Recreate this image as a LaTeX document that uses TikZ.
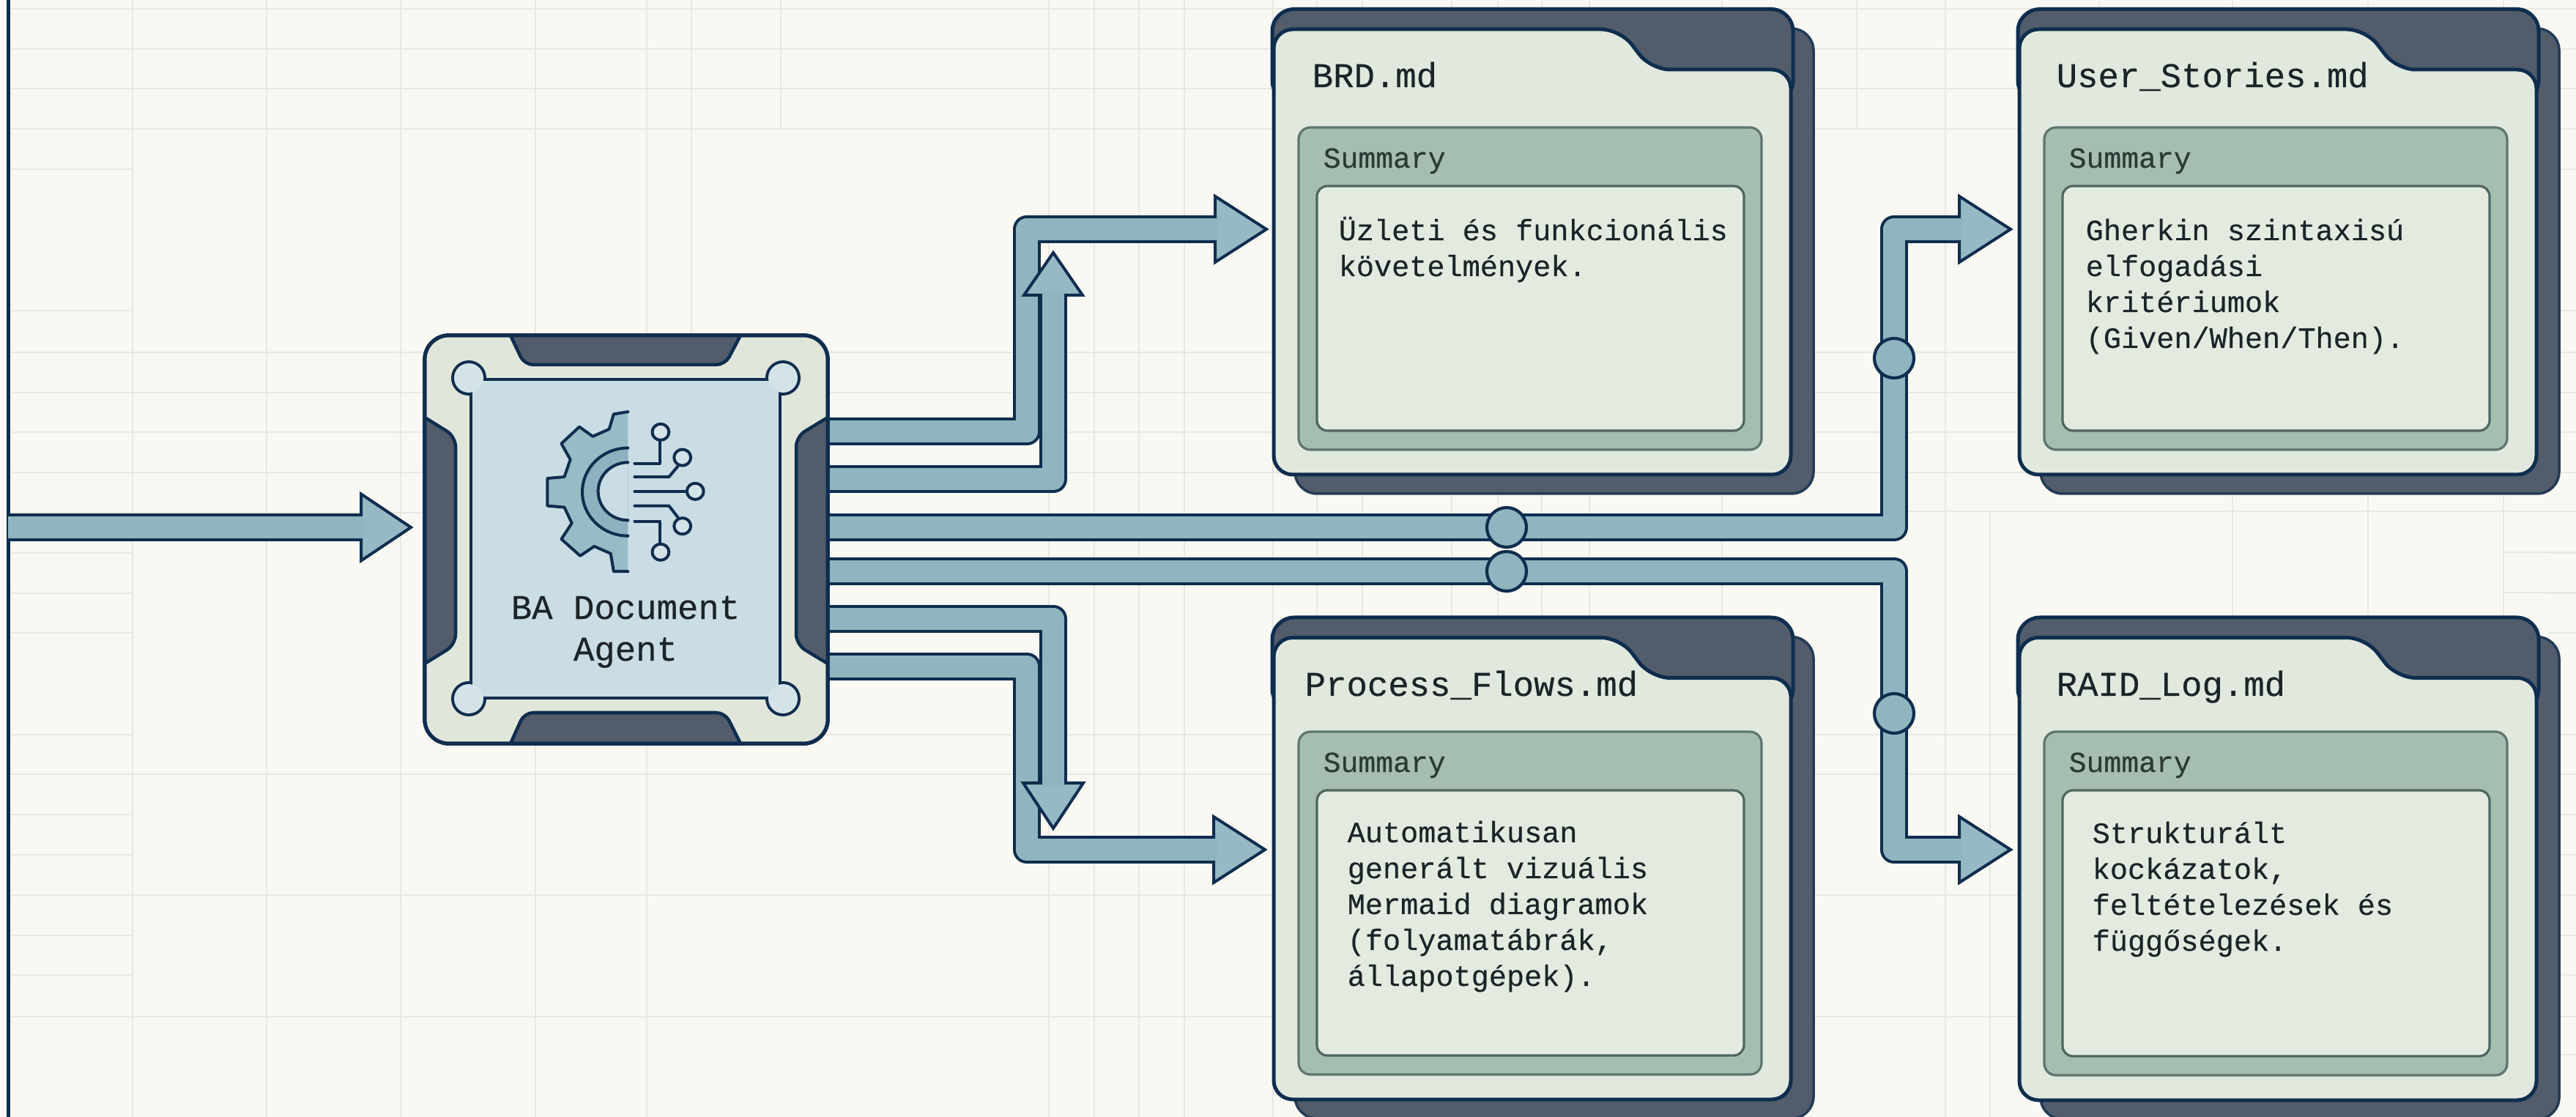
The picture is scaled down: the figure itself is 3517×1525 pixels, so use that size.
\documentclass[tikz,border=0pt]{standalone}
\usepackage{fontspec}
\setmainfont{Liberation Mono}[RawFeature={embolden=0.35}]
\usetikzlibrary{calc,fit}
\definecolor{bgc}{HTML}{F9F8F3}
\definecolor{gridc}{HTML}{E8E7E1}
\definecolor{navy}{HTML}{0F2D4E}
\definecolor{slate}{HTML}{525C6A}
\definecolor{band}{HTML}{8FB5C0}
\definecolor{tipc}{HTML}{97B9C5}
\definecolor{paper}{HTML}{E1E8DD}
\definecolor{sage}{HTML}{A5BEAF}
\definecolor{sageline}{HTML}{5E766F}
\definecolor{note}{HTML}{E3EADF}
\definecolor{noteline}{HTML}{4F6660}
\definecolor{chipc}{HTML}{E0E6DA}
\definecolor{panel}{HTML}{CADDE4}
\definecolor{knob}{HTML}{D3E3E8}
\definecolor{gearc}{HTML}{98BCC6}
\definecolor{ringc}{HTML}{8FB0BE}
\definecolor{ink}{HTML}{1B2428}
\definecolor{inkg}{HTML}{2B3A35}
\tikzset{
  x=0.01cm,y=-0.01cm,
  gridline/.style={draw=gridc,line width=0.025cm},
  pipeedge/.style={draw=navy,line width=0.385cm,line join=round},
  pipefill/.style={draw=band,line width=0.30cm,line join=round},
  tipshape/.style={draw=navy,fill=tipc,line width=0.04cm,line join=miter},
  junction/.style={circle,draw=navy,fill=band,line width=0.042cm,minimum size=0.54cm,inner sep=0pt},
  chipbox/.style={rectangle,rounded corners=0.33cm,draw=navy,fill=chipc,line width=0.05cm,minimum width=5.5cm,minimum height=5.57cm,inner sep=0pt,outer sep=0pt},
  slab/.style={draw=navy,fill=slate,line width=0.045cm,line join=round},
  folderback/.style={draw=navy!70!slate,fill=slate,line width=0.035cm,rounded corners=0.3cm},
  foldertab/.style={draw=navy,fill=slate,line width=0.05cm,rounded corners=0.3cm},
  folderfront/.style={draw=navy,fill=paper,line width=0.05cm,rounded corners=0.26cm,line join=round},
  sagebox/.style={draw=sageline,fill=sage,line width=0.032cm,rounded corners=0.16cm},
  notebox/.style={draw=noteline,fill=note,line width=0.032cm,rounded corners=0.14cm},
  foldertitle/.style={anchor=base west,inner sep=0pt,font=\fontsize{13.46pt}{16pt}\selectfont,text=ink},
  summarytitle/.style={anchor=base west,inner sep=0pt,font=\fontsize{11.3pt}{14pt}\selectfont,text=inkg},
  bodytext/.style={anchor=base west,inner sep=0pt,align=left,font=\fontsize{11.44pt}{13.94pt}\selectfont,text=ink},
  agenttext/.style={anchor=base,inner sep=0pt,align=center,font=\fontsize{13.46pt}{16.2pt}\selectfont,text=ink},
  icon/.style={draw=navy,line width=0.04cm,line join=round,line cap=round},
}
\newcommand{\fatR}[2]{%
  \draw[pipeedge] #1 -- ($(#2)+(-70,0)$);
  \draw[tipshape] (#2) -- ++(-70,-45) -- ++(0,90) -- cycle;
  \draw[pipefill] #1 -- ($(#2)+(-65,0)$);
}
\newcommand{\fatU}[2]{%
  \draw[pipeedge] #1 -- ($(#2)+(0,58)$);
  \draw[tipshape] (#2) -- ++(-40,58) -- ++(80,0) -- cycle;
  \draw[pipefill] #1 -- ($(#2)+(0,53)$);
}
\newcommand{\fatD}[2]{%
  \draw[pipeedge] #1 -- ($(#2)+(0,-62)$);
  \draw[tipshape] (#2) -- ++(-41,-62) -- ++(82,0) -- cycle;
  \draw[pipefill] #1 -- ($(#2)+(0,-57)$);
}
% name, dx, dy, front bottom, sage top, note top
\newcommand{\folderbox}[6]{%
  \begin{scope}[shift={(#2,#3)}]
    \node[fit={(1737,12.5)(2476,#4+26)},inner sep=0pt,outer sep=0pt] (#1) {};
    \draw[folderback] (1768,39) rectangle (2476,#4+26);
    \draw[foldertab] (1737,12.5) rectangle (2448,140);
    \draw[folderfront] (1739,40) -- (2212,40) -- (2254,95) -- (2445,95) -- (2445,#4) -- (1739,#4) -- cycle;
    \draw[sagebox] (1773,#5) rectangle (2405,#4-34);
    \draw[notebox] (1798,#6) rectangle (2381,#4-60);
  \end{scope}
}
\begin{document}
\begin{tikzpicture}
\useasboundingbox (0,0) rectangle (3517,1525);
\clip (0,0) rectangle (3517,1525);
\fill[bgc] (0,0) rectangle (3517,1525);
% background grid
\foreach \yy in {12,67,121,176,481,536,590,645,1057,1222,1388}
  \draw[gridline] (15,\yy) -- (3517,\yy);
\foreach \yy in {231,424,755,810,864,1112,1167,1277,1331}
  {\draw[gridline] (15,\yy) -- (181,\yy); \draw[gridline] (3480,\yy) -- (3517,\yy);}
\draw[gridline] (3480,1440) -- (3517,1440);
\draw[gridline] (15,700) -- (580,700);
\draw[gridline] (2603,698) -- (3517,698);
\draw[gridline] (3418,754) -- (3517,754);
\draw[gridline] (3418,809) -- (3517,809);
\draw[gridline] (15,1003) -- (181,1003);
\draw[gridline] (1127,1003) -- (3517,1003);
\foreach \xx in {181,364,547,731,883,1432,1494,1555,1617,1738,1798,1860,1982,2045,2105,2170,2351,2656,3048,3233,3418}
  \draw[gridline] (\xx,0) -- (\xx,1525);
\draw[gridline] (944,0) -- (944,458);
\draw[gridline] (1066,0) -- (1066,176);
\draw[gridline] (2535,0) -- (2535,176);
\draw[gridline] (2866,0) -- (2866,12);
\draw[gridline] (2717,698) -- (2717,1525);
% left rule
\draw[navy,line width=0.042cm] (11.5,0) -- (11.5,1525);
% nodes: agent and documents
\node[chipbox] (chip) at (855,736.5) {};
\folderbox{brd}{0}{0}{648}{174}{254}
\folderbox{stories}{1018}{0}{648}{174}{254}
\folderbox{flows}{0}{830.5}{670.5}{168.5}{248.5}
\folderbox{raid}{1018}{830.5}{671.5}{168.5}{248.5}
% connector ends
\coordinate (in0) at (11,720);
\coordinate (tip0) at (561,720);
\coordinate (o1) at (chip.east |- 0,589);
\coordinate (o2) at (chip.east |- 0,654);
\coordinate (o3) at (chip.east |- 0,720);
\coordinate (o4) at (chip.east |- 0,780);
\coordinate (o5) at (chip.east |- 0,845);
\coordinate (o6) at (chip.east |- 0,910);
\coordinate (tip1) at (1729,313);
\coordinate (tip2) at (1438,345);
\coordinate (tip3) at (2745,313);
\coordinate (tip4) at (2745,1160);
\coordinate (tip5) at (1438,1131);
\coordinate (tip6) at (1727,1160);
% connectors
\draw[pipeedge] (in0) -- ($(tip0)+(-68,0)$);
\draw[tipshape] (tip0) -- ++(-68,-45.5) -- ++(0,91) -- cycle;
\draw[pipefill] (in0) -- ($(tip0)+(-63,0)$);
\fatR{(o1) -- (1402,589) -- (1402,313)}{tip1}
\fatU{(o2) -- (1438,654)}{tip2}
\fatR{(o6) -- (1402,910) -- (1402,1160)}{tip6}
\fatD{(o5) -- (1438,845)}{tip5}
\fatR{(o3) -- (2586,720) -- (2586,313)}{tip3}
\fatR{(o4) -- (2586,780) -- (2586,1160)}{tip4}
\node[junction] (j1) at (2057,720) {};
\node[junction] (j2) at (2057,780) {};
\node[junction] (j3) at (2586,489) {};
\node[junction] (j4) at (2586,974) {};
% chip redrawn over the connector ends
\node[chipbox] at (chip.center) {};
\draw[slab] (697,458) [rounded corners=0.12cm] -- (716,498) -- (990,498) [sharp corners] -- (1011,458) -- cycle;
\draw[slab] (697,1015) [rounded corners=0.12cm] -- (716,973) -- (990,973) [sharp corners] -- (1011,1015) -- cycle;
\draw[slab] (580,570) [rounded corners=0.14cm] -- (622,596) -- (622,880) [sharp corners] -- (580,906) -- cycle;
\draw[slab] (1130,570) [rounded corners=0.14cm] -- (1087,596) -- (1087,880) [sharp corners] -- (1130,906) -- cycle;
\node[chipbox,fill=none] at (chip.center) {};
% inner panel with corner knobs
\begin{scope}[draw=navy,line width=0.08cm]
  \draw (645,520) rectangle (1063,951);
  \foreach \cx/\cy in {640/516,1069/516,640/954,1069/954}
    \draw (\cx,\cy) circle[radius=20];
\end{scope}
\fill[panel] (645,520) rectangle (1063,951);
\foreach \cx/\cy in {640/516,1069/516,640/954,1069/954}
  \fill[knob] (\cx,\cy) circle[radius=20];
% gear and circuit icon
\begin{scope}[shift={(540,420)},xscale=0.408,yscale=0.395]
  \fill[gearc] (778,360) -- (730,368) -- (715,420) -- (660,445) -- (615,412) -- (555,470) -- (585,525) -- (565,585) -- (508,590) -- (508,685) -- (565,690) -- (590,745) -- (555,800) -- (618,858) -- (665,825) -- (720,850) -- (730,912) -- (778,912) -- cycle;
  \draw[icon] (778,360) -- (730,368) -- (715,420) -- (660,445) -- (615,412) -- (555,470) -- (585,525) -- (565,585) -- (508,590) -- (508,685) -- (565,690) -- (590,745) -- (555,800) -- (618,858) -- (665,825) -- (720,850) -- (730,912) -- (778,912);
  \fill[ringc] (778,485) arc[start angle=270,end angle=90,x radius=153,y radius=152] -- cycle;
  \draw[icon] (778,485) arc[start angle=270,end angle=90,x radius=153,y radius=152];
  \fill[panel] (778,535) arc[start angle=270,end angle=90,x radius=100,y radius=100] -- cycle;
  \draw[icon] (778,535) arc[start angle=270,end angle=90,x radius=100,y radius=100];
  \draw[icon] (800,538) -- (885,538) -- (885,458);
  \draw[icon] (800,585) -- (915,585) -- (945,548);
  \draw[icon] (800,635) -- (975,635);
  \draw[icon] (800,685) -- (915,685) -- (945,725);
  \draw[icon] (800,738) -- (885,738) -- (885,815);
  \foreach \cx/\cy in {887/430,960/518,1003/635,960/755,887/845}
    \draw[icon,fill=knob] (\cx,\cy) circle[radius=28];
\end{scope}
% agent label
\node[agenttext] (agentlabel) at (854,902) {BA Document\\Agent};
% folder texts
\node[foldertitle] (t1) at (1791,119) {BRD.md};
\node[summarytitle] (s1) at (1806,229) {Summary};
\node[bodytext] (b1) at (1827,377) {Üzleti és funkcionális\\követelmények.};
\node[foldertitle] (t2) at (2807,119) {User\_Stories.md};
\node[summarytitle] (s2) at (2824,229) {Summary};
\node[bodytext] (b2) at (2847,475) {Gherkin szintaxisú\\elfogadási\\kritériumok\\(Given/When/Then).};
\node[foldertitle] (t3) at (1781,950) {Process\_Flows.md};
\node[summarytitle] (s3) at (1806,1054) {Summary};
\node[bodytext] (b3) at (1839,1346) {Automatikusan\\generált vizuális\\Mermaid diagramok\\(folyamatábrák,\\állapotgépek).};
\node[foldertitle] (t4) at (2807,950) {RAID\_Log.md};
\node[summarytitle] (s4) at (2824,1054) {Summary};
\node[bodytext] (b4) at (2856,1298) {Strukturált\\kockázatok,\\feltételezések és\\függőségek.};
\end{tikzpicture}
\end{document}
